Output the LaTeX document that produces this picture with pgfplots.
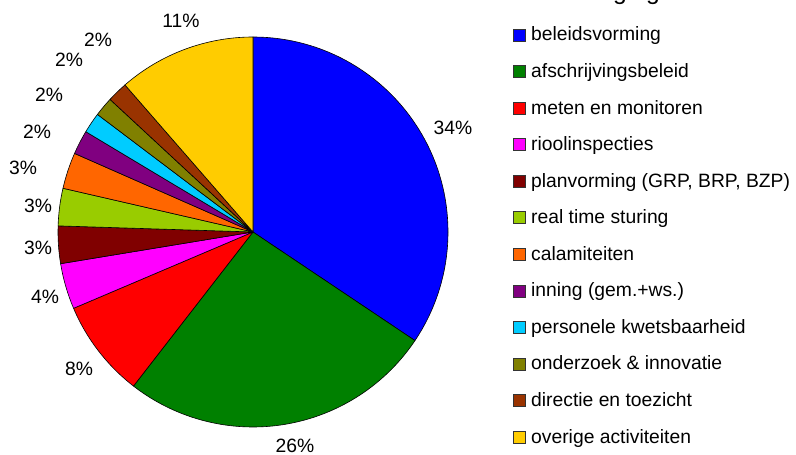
\documentclass[border=0pt]{standalone}
\usepackage{pgfplots}
\usepackage{pgfplotstable}
\pgfplotsset{compat=1.18}
\usepackage{fontspec}
\setmainfont{Liberation Sans}

\definecolor{cBlue}{HTML}{0000FF}
\definecolor{cGreen}{HTML}{008000}
\definecolor{cRed}{HTML}{FF0000}
\definecolor{cMagenta}{HTML}{FF00FF}
\definecolor{cDarkRed}{HTML}{800000}
\definecolor{cLime}{HTML}{99CC00}
\definecolor{cOrange}{HTML}{FF6600}
\definecolor{cPurple}{HTML}{800080}
\definecolor{cCyan}{HTML}{00CCFF}
\definecolor{cOlive}{HTML}{808000}
\definecolor{cBrown}{HTML}{993300}
\definecolor{cYellow}{HTML}{FFCC00}

\pgfplotstableread[col sep=semicolon]{
name;value;color;label
beleidsvorming;34.4;cBlue;34\%
afschrijvingsbeleid;26.1;cGreen;26\%
meten en monitoren;8.1;cRed;8\%
rioolinspecties;3.8;cMagenta;4\%
planvorming (GRP, BRP, BZP);3.1;cDarkRed;3\%
real time sturing;3.1;cLime;3\%
calamiteiten;3.0;cOrange;3\%
inning (gem.+ws.);2.0;cPurple;2\%
personele kwetsbaarheid;1.7;cCyan;2\%
onderzoek \& innovatie;1.6;cOlive;2\%
directie en toezicht;1.7;cBrown;2\%
overige activiteiten;11.4;cYellow;11\%
}\piedata

\def\R{195}

\begin{document}
\begin{tikzpicture}[font=\fontsize{19.3bp}{23bp}\selectfont]
\useasboundingbox (0,0) rectangle (796bp,455bp);

% title (cut off at the top edge, as in the reference)
\begin{scope}
\clip (0,0) rectangle (796bp,455bp);
\node[anchor=base east, inner sep=0pt, font=\fontsize{24.7bp}{30bp}\selectfont] at (660bp,455.5bp) {Oorzaken lastenverhoging};
\end{scope}

\begin{axis}[
  at={(253bp,223bp)}, anchor=origin,
  x=1bp, y=1bp,
  xmin=-200, xmax=200, ymin=-200, ymax=200,
  hide axis, clip=false,
]
\pgfplotstablegetrowsof{\piedata}
\pgfmathtruncatemacro\nrows{\pgfplotsretval-1}
\def\cum{0}
\pgfplotsforeachungrouped \i in {0,...,\nrows}{%
  \pgfplotstablegetelem{\i}{value}\of\piedata \let\v\pgfplotsretval
  \pgfplotstablegetelem{\i}{color}\of\piedata \let\c\pgfplotsretval
  \pgfmathsetmacro\a{90-3.6*\cum}%
  \pgfmathsetmacro\b{90-3.6*(\cum+\v)}%
  \edef\temp{\noexpand\filldraw[fill=\c, draw=black, line width=0.6bp, line join=round]
    (axis cs:0,0) -- (axis cs:{\R*cos(\a)},{\R*sin(\a)})
    arc[start angle=\a, end angle=\b, radius=\R bp] -- cycle;}%
  \temp
  \pgfmathsetmacro\cum{\cum+\v}%
}
% data labels
\tikzset{plab/.style={anchor=base, inner sep=0pt, text depth=0pt}}
\node[plab] at (axis cs:200,97) {34\%};
\node[plab] at (axis cs:42,-221) {26\%};
\node[plab] at (axis cs:-174,-144) {8\%};
\node[plab] at (axis cs:-208,-72) {4\%};
\node[plab] at (axis cs:-215,-23) {3\%};
\node[plab] at (axis cs:-215,19) {3\%};
\node[plab] at (axis cs:-230,57) {3\%};
\node[plab] at (axis cs:-216,93) {2\%};
\node[plab] at (axis cs:-204,130) {2\%};
\node[plab] at (axis cs:-184,165) {2\%};
\node[plab] at (axis cs:-155,185) {2\%};
\node[plab] at (axis cs:-72,204) {11\%};
\end{axis}

% legend
\pgfplotstablegetrowsof{\piedata}
\pgfmathtruncatemacro\nrows{\pgfplotsretval-1}
\foreach \i in {0,...,\nrows}{
  \pgfplotstablegetelem{\i}{name}\of\piedata \let\n\pgfplotsretval
  \pgfplotstablegetelem{\i}{color}\of\piedata \let\c\pgfplotsretval
  \pgfmathsetmacro\yb{455-(41+36.55*\i)}
  \filldraw[fill=\c, draw=black!80, line width=0.6bp] (513bp,\yb bp) rectangle (525bp,\yb bp+12bp);
  \node[anchor=base west, inner sep=0pt] at (531bp,\yb bp) {\n};
}
\end{tikzpicture}
\end{document}
